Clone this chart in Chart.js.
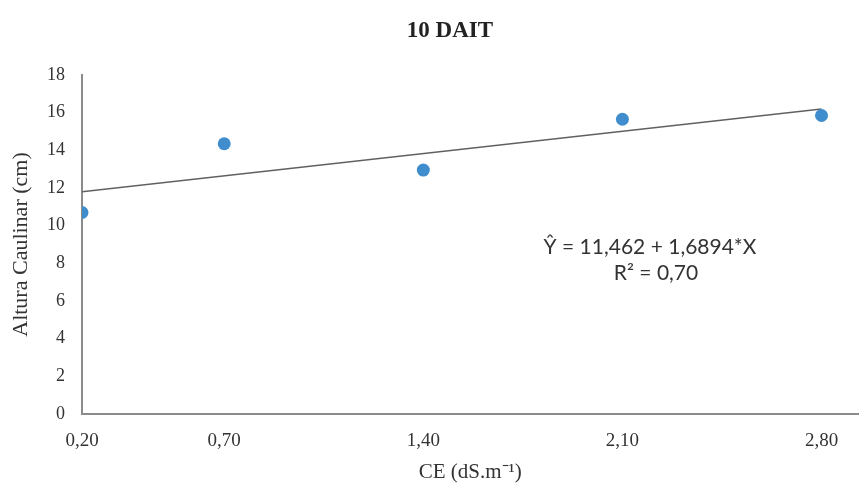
<!DOCTYPE html>
<html>
<head>
<meta charset="utf-8">
<script src="https://cdn.jsdelivr.net/npm/chart.js@4/dist/chart.umd.min.js"></script>
<style>
  html, body { margin: 0; padding: 0; background: #ffffff; }
  #wrap { width: 865px; height: 488px; }
</style>
</head>
<body>
<div id="wrap"><canvas id="c" width="865" height="488"></canvas></div>
<script>
// ---- data ----
const ceLevels = [0.20, 0.70, 1.40, 2.10, 2.80];          // CE (dS.m-1)
const alturaCaulinar = [10.7, 14.35, 12.95, 15.65, 15.85]; // cm
const xTickValues = [0.20, 0.70, 1.40, 2.10, 2.80];
const yTickStep = 2;
const regIntercept = 11.462;
const regSlope = 1.6894;
const titleText = '10 DAIT';
const xTitle = 'CE (dS.m\u207B\u00B9)';
const yTitle = 'Altura Caulinar (cm)';
const eqLines = ['\u0176 = 11,462 + 1,6894*X', 'R\u00B2 = 0,70'];

const points = ceLevels.map((x, i) => ({ x: x, y: alturaCaulinar[i] }));
const xFirst = ceLevels[0], xLast = ceLevels[ceLevels.length - 1];
const trend = [xFirst, xLast].map(x => ({ x: x, y: regIntercept + regSlope * x }));

const serif = '"Liberation Serif", "Times New Roman", serif';

const overlay = {
  id: 'overlay',
  afterDraw(chart) {
    const ctx = chart.ctx;
    ctx.save();
    ctx.fillStyle = '#222222';
    ctx.textAlign = 'center';
    ctx.textBaseline = 'middle';
    ctx.font = 'bold 23px ' + serif;
    ctx.fillText(titleText, 450, 31);
    ctx.fillStyle = '#333333';
    ctx.font = '21px Lato, "Open Sans", sans-serif';
    ctx.fillText(eqLines[0], 650, 247);
    ctx.fillText(eqLines[1], 656, 273);
    ctx.restore();
  }
};

new Chart(document.getElementById('c'), {
  type: 'scatter',
  data: {
    datasets: [
      {
        label: 'Altura',
        data: points,
        showLine: false,
        pointRadius: 6.5,
        pointHoverRadius: 6.5,
        pointBackgroundColor: '#3f8dcc',
        pointBorderColor: '#3f8dcc',
        pointBorderWidth: 0,
        order: 1
      },
      {
        type: 'line',
        label: 'Tendência',
        data: trend,
        borderColor: '#606060',
        borderWidth: 1.6,
        pointRadius: 0,
        fill: false,
        order: 2
      }
    ]
  },
  plugins: [overlay],
  options: {
    responsive: false,
    animation: false,
    events: [],
    layout: { padding: { top: 75, right: 0, left: 0, bottom: 0 } },
    plugins: {
      legend: { display: false },
      tooltip: { enabled: false },
      title: { display: false }
    },
    scales: {
      x: {
        type: 'linear',
        min: 0.2,
        max: 2.93,
        afterBuildTicks: (scale) => { scale.ticks = xTickValues.map(v => ({ value: v })); },
        afterFit: (scale) => { scale.height = 74; },
        grid: { display: false, drawTicks: false },
        border: { display: true, color: '#8c8c8c', width: 2 },
        ticks: {
          padding: 16,
          color: '#333333',
          font: { family: serif, size: 19 },
          callback: (v) => Number(v).toFixed(2).replace('.', ',')
        },
        title: {
          display: true,
          text: xTitle,
          color: '#333333',
          font: { family: serif, size: 21 },
          padding: { top: 0, bottom: 3 }
        }
      },
      y: {
        min: 0,
        max: 18,
        afterFit: (scale) => { scale.width = 82; },
        grid: { display: false, drawTicks: false },
        border: { display: true, color: '#8c8c8c', width: 2 },
        ticks: {
          stepSize: yTickStep,
          padding: 17,
          color: '#333333',
          font: { family: serif, size: 18 }
        },
        title: {
          display: true,
          text: yTitle,
          color: '#333333',
          font: { family: serif, size: 22 },
          padding: { top: 8, bottom: 0 }
        }
      }
    }
  }
});
</script>
</body>
</html>
